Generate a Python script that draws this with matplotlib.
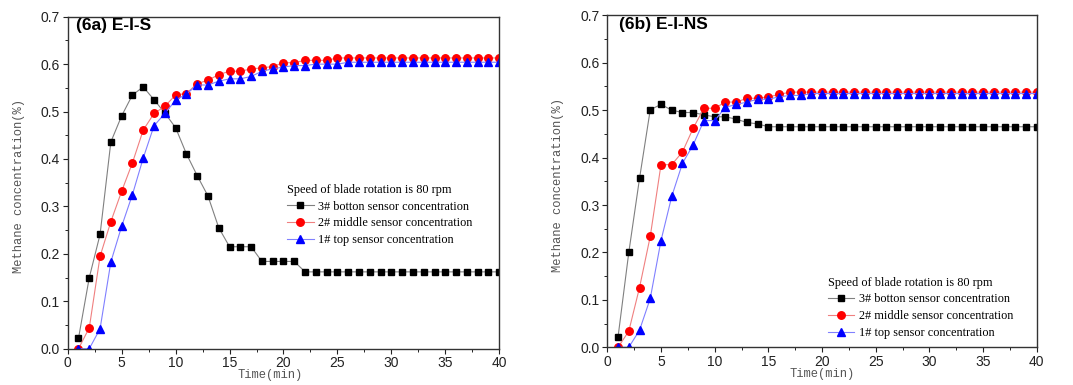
import numpy as np
import matplotlib.pyplot as plt
from matplotlib.ticker import MultipleLocator

time = np.arange(1, 41)

# (6a) E-I-S
a_bottom = [0.022, 0.150, 0.241, 0.436, 0.491, 0.535, 0.552, 0.525, 0.497, 0.466,
            0.411, 0.365, 0.322, 0.255, 0.215, 0.215, 0.215, 0.184, 0.184, 0.184,
            0.184] + [0.162] * 19
a_middle = [0.0, 0.044, 0.195, 0.268, 0.332, 0.392, 0.461, 0.496, 0.511, 0.535,
            0.538, 0.559, 0.566, 0.578, 0.585, 0.585, 0.590, 0.592, 0.595, 0.603,
            0.603, 0.608, 0.608, 0.608] + [0.613] * 16
a_top = [0.0, 0.0, 0.042, 0.183, 0.258, 0.325, 0.402, 0.470, 0.496, 0.524,
         0.537, 0.556, 0.556, 0.564, 0.569, 0.569, 0.574, 0.585, 0.590, 0.594,
         0.597, 0.597, 0.600, 0.600, 0.600] + [0.604] * 15

# (6b) E-I-NS
b_bottom = [0.022, 0.200, 0.356, 0.501, 0.512, 0.500, 0.495, 0.495, 0.490, 0.486,
            0.486, 0.481, 0.474, 0.471] + [0.465] * 26
b_middle = [0.0, 0.034, 0.126, 0.234, 0.385, 0.385, 0.412, 0.462, 0.504, 0.504,
            0.517, 0.517, 0.525, 0.525, 0.528, 0.533] + [0.538] * 24
b_top = [0.0, 0.0, 0.036, 0.103, 0.225, 0.318, 0.388, 0.427, 0.478, 0.478,
         0.506, 0.512, 0.517, 0.523, 0.523, 0.528, 0.531, 0.531] + [0.535] * 22

labels = ["3# botton sensor concentration",
          "2# middle sensor concentration",
          "1# top sensor concentration"]
legend_title = "Speed of blade rotation is 80 rpm"

fig = plt.figure(figsize=(10.73, 3.85), dpi=100)
ax1 = fig.add_axes([0.0631, 0.0943, 0.4022, 0.8623])
ax2 = fig.add_axes([0.5660, 0.0979, 0.4002, 0.8624])

panels = [
    (ax1, a_bottom, a_middle, a_top, "(6a) E-I-S", (0.019, 0.995), (0.508, 0.497), 0.47),
    (ax2, b_bottom, b_middle, b_top, "(6b) E-I-NS", (0.028, 0.995), (0.513, 0.213), 0.5),
]

for ax, bot, mid, top, title, tpos, lpos, xlx in panels:
    ax.plot(time, bot, color="#808080", lw=0.8, marker="s", ms=5,
            mfc="black", mec="black", label=labels[0])
    ax.plot(time, mid, color="#f08080", lw=0.8, marker="o", ms=5.4,
            mfc="red", mec="red", label=labels[1])
    ax.plot(time, top, color="#8080ff", lw=0.8, marker="^", ms=5.8,
            mfc="blue", mec="blue", label=labels[2])

    ax.set_xlim(0, 40)
    ax.set_ylim(0, 0.7)
    ax.xaxis.set_major_locator(MultipleLocator(5))
    ax.xaxis.set_minor_locator(MultipleLocator(2.5))
    ax.yaxis.set_major_locator(MultipleLocator(0.1))
    ax.yaxis.set_minor_locator(MultipleLocator(0.05))
    ax.tick_params(which="major", direction="out", length=3.5, width=0.8,
                   labelsize=10, colors="#222222", pad=2)
    ax.tick_params(which="minor", direction="out", length=2, width=0.6)
    for lab in ax.get_xticklabels() + ax.get_yticklabels():
        lab.set_family("Liberation Sans")
    for s in ax.spines.values():
        s.set_linewidth(1.0)
        s.set_color("#333333")

    ax.set_xlabel("Time(min)", family="Liberation Mono", fontsize=8.7, color="#555555")
    ax.set_ylabel("Methane concentration(%)", family="Liberation Mono", fontsize=8.7,
                  color="#555555")
    ax.xaxis.set_label_coords(xlx, -0.062)
    ax.yaxis.set_label_coords(-0.1, 0.49)

    ax.text(tpos[0], tpos[1], title, transform=ax.transAxes, ha="left", va="top",
            fontsize=12.5, fontweight="bold", family="Liberation Sans")

    leg = ax.legend(loc="upper left", bbox_to_anchor=lpos, frameon=False,
                    title=legend_title, alignment="left",
                    prop={"family": "Liberation Serif", "size": 8.8},
                    title_fontproperties={"family": "Liberation Serif", "size": 8.8},
                    handlelength=2.2, handletextpad=0.35, labelspacing=0.4,
                    borderpad=0, borderaxespad=0)

fig.savefig("out.png", dpi=100)
